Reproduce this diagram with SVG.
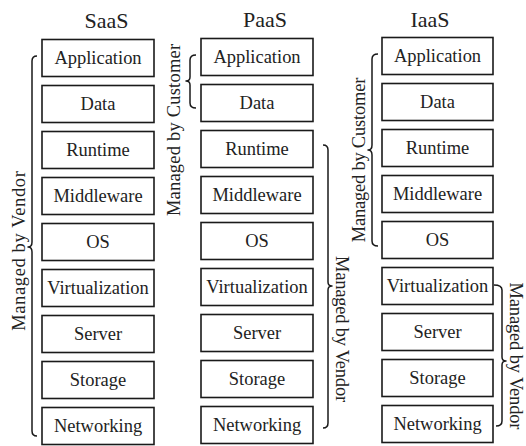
<svg xmlns="http://www.w3.org/2000/svg" width="526" height="446" viewBox="0 0 526 446">
  <style>
    text { font-family: "Liberation Serif", "Times New Roman", Times, serif; fill: #222; text-anchor: middle; }
    .box { fill: #ffffff; stroke: #1a1a1a; stroke-width: 1.6; }
    /* labels are set at 22px and scaled down to about 18.5px */
    .lbl, .side, .ttl { font-size: 22px; }
    .brace { fill: none; stroke: #1a1a1a; stroke-width: 1.5; stroke-linejoin: round; }
  </style>
  <rect width="526" height="446" fill="#ffffff"/>

  <!-- column titles -->
  <text class="ttl" x="106.5" y="28">SaaS</text>
  <text class="ttl" x="265" y="27">PaaS</text>
  <text class="ttl" x="430" y="27">IaaS</text>

  <!-- SaaS stack -->
  <g id="saas-application"><rect class="box" x="42" y="39.5" width="112" height="37"/><text class="lbl" transform="translate(98,64) scale(0.84)">Application</text></g>
  <g id="saas-data"><rect class="box" x="42" y="85.5" width="112" height="37"/><text class="lbl" transform="translate(98,110) scale(0.84)">Data</text></g>
  <g id="saas-runtime"><rect class="box" x="42" y="131.5" width="112" height="37"/><text class="lbl" transform="translate(98,156) scale(0.84)">Runtime</text></g>
  <g id="saas-middleware"><rect class="box" x="42" y="177.5" width="112" height="37"/><text class="lbl" transform="translate(98,202) scale(0.84)">Middleware</text></g>
  <g id="saas-os"><rect class="box" x="42" y="223.5" width="112" height="37"/><text class="lbl" transform="translate(98,248) scale(0.84)">OS</text></g>
  <g id="saas-virtualization"><rect class="box" x="42" y="269.5" width="112" height="37"/><text class="lbl" transform="translate(98,294) scale(0.84)">Virtualization</text></g>
  <g id="saas-server"><rect class="box" x="42" y="315.5" width="112" height="37"/><text class="lbl" transform="translate(98,340) scale(0.84)">Server</text></g>
  <g id="saas-storage"><rect class="box" x="42" y="361.5" width="112" height="37"/><text class="lbl" transform="translate(98,386) scale(0.84)">Storage</text></g>
  <g id="saas-networking"><rect class="box" x="42" y="407.5" width="112" height="37"/><text class="lbl" transform="translate(98,432) scale(0.84)">Networking</text></g>

  <!-- PaaS stack -->
  <g id="paas-application"><rect class="box" x="201" y="38.5" width="112" height="37"/><text class="lbl" transform="translate(257,63) scale(0.84)">Application</text></g>
  <g id="paas-data"><rect class="box" x="201" y="84.5" width="112" height="37"/><text class="lbl" transform="translate(257,109) scale(0.84)">Data</text></g>
  <g id="paas-runtime"><rect class="box" x="201" y="130.5" width="112" height="37"/><text class="lbl" transform="translate(257,155) scale(0.84)">Runtime</text></g>
  <g id="paas-middleware"><rect class="box" x="201" y="176.5" width="112" height="37"/><text class="lbl" transform="translate(257,201) scale(0.84)">Middleware</text></g>
  <g id="paas-os"><rect class="box" x="201" y="222.5" width="112" height="37"/><text class="lbl" transform="translate(257,247) scale(0.84)">OS</text></g>
  <g id="paas-virtualization"><rect class="box" x="201" y="268.5" width="112" height="37"/><text class="lbl" transform="translate(257,293) scale(0.84)">Virtualization</text></g>
  <g id="paas-server"><rect class="box" x="201" y="314.5" width="112" height="37"/><text class="lbl" transform="translate(257,339) scale(0.84)">Server</text></g>
  <g id="paas-storage"><rect class="box" x="201" y="360.5" width="112" height="37"/><text class="lbl" transform="translate(257,385) scale(0.84)">Storage</text></g>
  <g id="paas-networking"><rect class="box" x="201" y="406.5" width="112" height="37"/><text class="lbl" transform="translate(257,431) scale(0.84)">Networking</text></g>

  <!-- IaaS stack -->
  <g id="iaas-application"><rect class="box" x="382" y="37.5" width="111" height="37"/><text class="lbl" transform="translate(437.5,62) scale(0.84)">Application</text></g>
  <g id="iaas-data"><rect class="box" x="382" y="83.5" width="111" height="37"/><text class="lbl" transform="translate(437.5,108) scale(0.84)">Data</text></g>
  <g id="iaas-runtime"><rect class="box" x="382" y="129.5" width="111" height="37"/><text class="lbl" transform="translate(437.5,154) scale(0.84)">Runtime</text></g>
  <g id="iaas-middleware"><rect class="box" x="382" y="175.5" width="111" height="37"/><text class="lbl" transform="translate(437.5,200) scale(0.84)">Middleware</text></g>
  <g id="iaas-os"><rect class="box" x="382" y="221.5" width="111" height="37"/><text class="lbl" transform="translate(437.5,246) scale(0.84)">OS</text></g>
  <g id="iaas-virtualization"><rect class="box" x="382" y="267.5" width="111" height="37"/><text class="lbl" transform="translate(437.5,292) scale(0.84)">Virtualization</text></g>
  <g id="iaas-server"><rect class="box" x="382" y="313.5" width="111" height="37"/><text class="lbl" transform="translate(437.5,338) scale(0.84)">Server</text></g>
  <g id="iaas-storage"><rect class="box" x="382" y="359.5" width="111" height="37"/><text class="lbl" transform="translate(437.5,384) scale(0.84)">Storage</text></g>
  <g id="iaas-networking"><rect class="box" x="382" y="405.5" width="111" height="37"/><text class="lbl" transform="translate(437.5,430) scale(0.84)">Networking</text></g>

  <!-- braces grouping the layers -->
  <g id="braces">
    <path class="brace" d="M37,56 Q32,56 32,61 L32,242 Q32,247 28,247 Q32,247 32,252 L32,431 Q32,436 37,436"/>
    <path class="brace" d="M196,55 Q190,55 190,60 L190,77 Q190,81 186,81 Q190,81 190,85 L190,103 Q190,108 196,108"/>
    <path class="brace" d="M323,145 Q328,145 328,150 L328,282 Q328,286 332,286 Q328,286 328,290 L328,423 Q328,428 323,428"/>
    <path class="brace" d="M378,54 Q372,54 372,59 L372,145 Q372,150 368,150 Q372,150 372,155 L372,241 Q372,246 378,246"/>
    <path class="brace" d="M494,285 Q502,285 502,290 L502,357 Q502,361 506,361 Q502,361 502,365 L502,421 Q502,426 496,426"/>
  </g>

  <!-- side labels -->
  <text class="side" transform="translate(25,251) rotate(-90) scale(0.84)" textLength="190" lengthAdjust="spacing">Managed by Vendor</text>
  <text class="side" transform="translate(180,130) rotate(-90) scale(0.84)" textLength="205" lengthAdjust="spacing">Managed by Customer</text>
  <text class="side" transform="translate(336,329) rotate(90) scale(0.84)" textLength="174" lengthAdjust="spacing">Managed by Vendor</text>
  <text class="side" transform="translate(365,160) rotate(-90) scale(0.84)" textLength="196" lengthAdjust="spacing">Managed by Customer</text>
  <text class="side" transform="translate(510,356) rotate(90) scale(0.84)" textLength="175" lengthAdjust="spacing">Managed by Vendor</text>
</svg>
